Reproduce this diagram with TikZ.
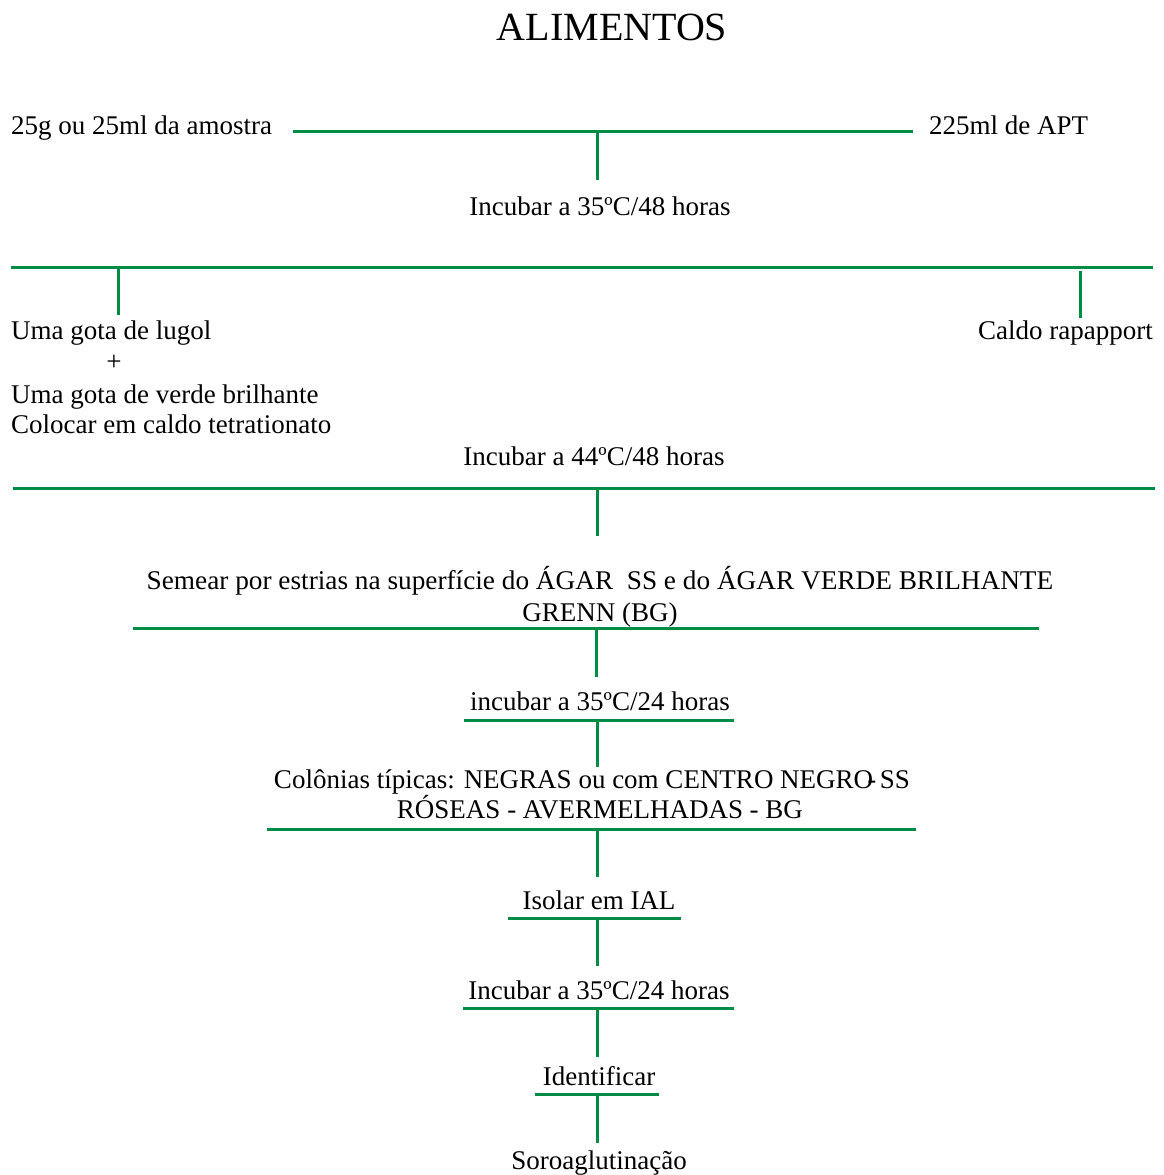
\documentclass[tikz,border=0pt]{standalone}
\usepackage{fontspec}
\setmainfont{Liberation Serif}
\definecolor{bargreen}{RGB}{0,140,68}
\begin{document}
\begin{tikzpicture}[x=1pt,y=-1pt,
  txt/.style={inner sep=0pt,font=\fontsize{27}{31}\selectfont},
  bar/.style={draw=bargreen,line width=3pt}]
\useasboundingbox (0,0) rectangle (1164,1175);
% texts
\node[inner sep=0pt,font=\fontsize{40}{44}\selectfont,anchor=base] (title) at (612,40) {ALIMENTOS};
\node[txt,anchor=base west] (amostra) at (11,134) {25g ou 25ml da amostra};
\node[txt,anchor=base west] (apt) at (929,134) {225ml de APT};
\node[txt,anchor=base] (inc1) at (600,215) {Incubar a 35ºC/48 horas};
\node[txt,anchor=base west] (lugol) at (11,339) {Uma gota de lugol};
\node[txt,anchor=center] (plus) at (114,363) {+};
\node[txt,anchor=base west] (verde) at (11,403) {Uma gota de verde brilhante};
\node[txt,anchor=base west] (tetra) at (11,433) {Colocar em caldo tetrationato};
\node[txt,anchor=base east] (rapp) at (1153,339) {Caldo rapapport};
\node[txt,anchor=base] (inc2) at (594,465) {Incubar a 44ºC/48 horas};
\node[txt,anchor=base,xscale=1.01] (semear) at (600,589) {Semear por estrias na superfície do ÁGAR\ \ SS e do ÁGAR VERDE BRILHANTE};
\node[txt,anchor=base] (grenn) at (600,621) {GRENN (BG)};
\node[txt,anchor=base] (inc3) at (600,710) {incubar a 35ºC/24 horas};
\node[txt,anchor=base] (colon) at (592,788) {Colônias típicas: NEGRAS ou com CENTRO NEGRO\rlap{\kern-6pt-} SS};
\node[txt,anchor=base] (roseas) at (600,818) {RÓSEAS - AVERMELHADAS - BG};
\node[txt,anchor=base] (isolar) at (599,909) {Isolar em IAL};
\node[txt,anchor=base] (inc4) at (599,999) {Incubar a 35ºC/24 horas};
\node[txt,anchor=base] (ident) at (599,1085) {Identificar};
\node[txt,anchor=base] (soro) at (599,1169) {Soroaglutinação};
% bar coordinates
\coordinate (b1l) at (293,131); \coordinate (b1r) at (913,131);
\coordinate (s1t) at (597,131); \coordinate (s1b) at (597,180);
\coordinate (b2l) at (11,267); \coordinate (b2r) at (1153,267);
\coordinate (s2at) at (118,267); \coordinate (s2ab) at (118,315);
\coordinate (s2bt) at (1080,271); \coordinate (s2bb) at (1080,318);
\coordinate (b3l) at (13,488); \coordinate (b3r) at (1155,488);
\coordinate (s3t) at (597,488); \coordinate (s3b) at (597,536);
\coordinate (b4l) at (133,628); \coordinate (b4r) at (1039,628);
\coordinate (s4t) at (596,628); \coordinate (s4b) at (596,677);
\coordinate (b5l) at (464,720); \coordinate (b5r) at (734,720);
\coordinate (s5t) at (597,720); \coordinate (s5b) at (597,767);
\coordinate (b6l) at (267,829); \coordinate (b6r) at (916,829);
\coordinate (s6t) at (597,829); \coordinate (s6b) at (597,877);
\coordinate (b7l) at (508,918); \coordinate (b7r) at (681,918);
\coordinate (s7t) at (597,918); \coordinate (s7b) at (597,966);
\coordinate (b8l) at (463,1008); \coordinate (b8r) at (734,1008);
\coordinate (s8t) at (597,1008); \coordinate (s8b) at (597,1057);
\coordinate (b9l) at (535,1094); \coordinate (b9r) at (659,1094);
\coordinate (s9t) at (597,1094); \coordinate (s9b) at (597,1143);
% bars and stems
\foreach \a/\b in {b1l/b1r,s1t/s1b,b2l/b2r,s2at/s2ab,s2bt/s2bb,b3l/b3r,s3t/s3b,b4l/b4r,s4t/s4b,b5l/b5r,s5t/s5b,b6l/b6r,s6t/s6b,b7l/b7r,s7t/s7b,b8l/b8r,s8t/s8b,b9l/b9r,s9t/s9b}
  \draw[bar] (\a) -- (\b);
\end{tikzpicture}
\end{document}
